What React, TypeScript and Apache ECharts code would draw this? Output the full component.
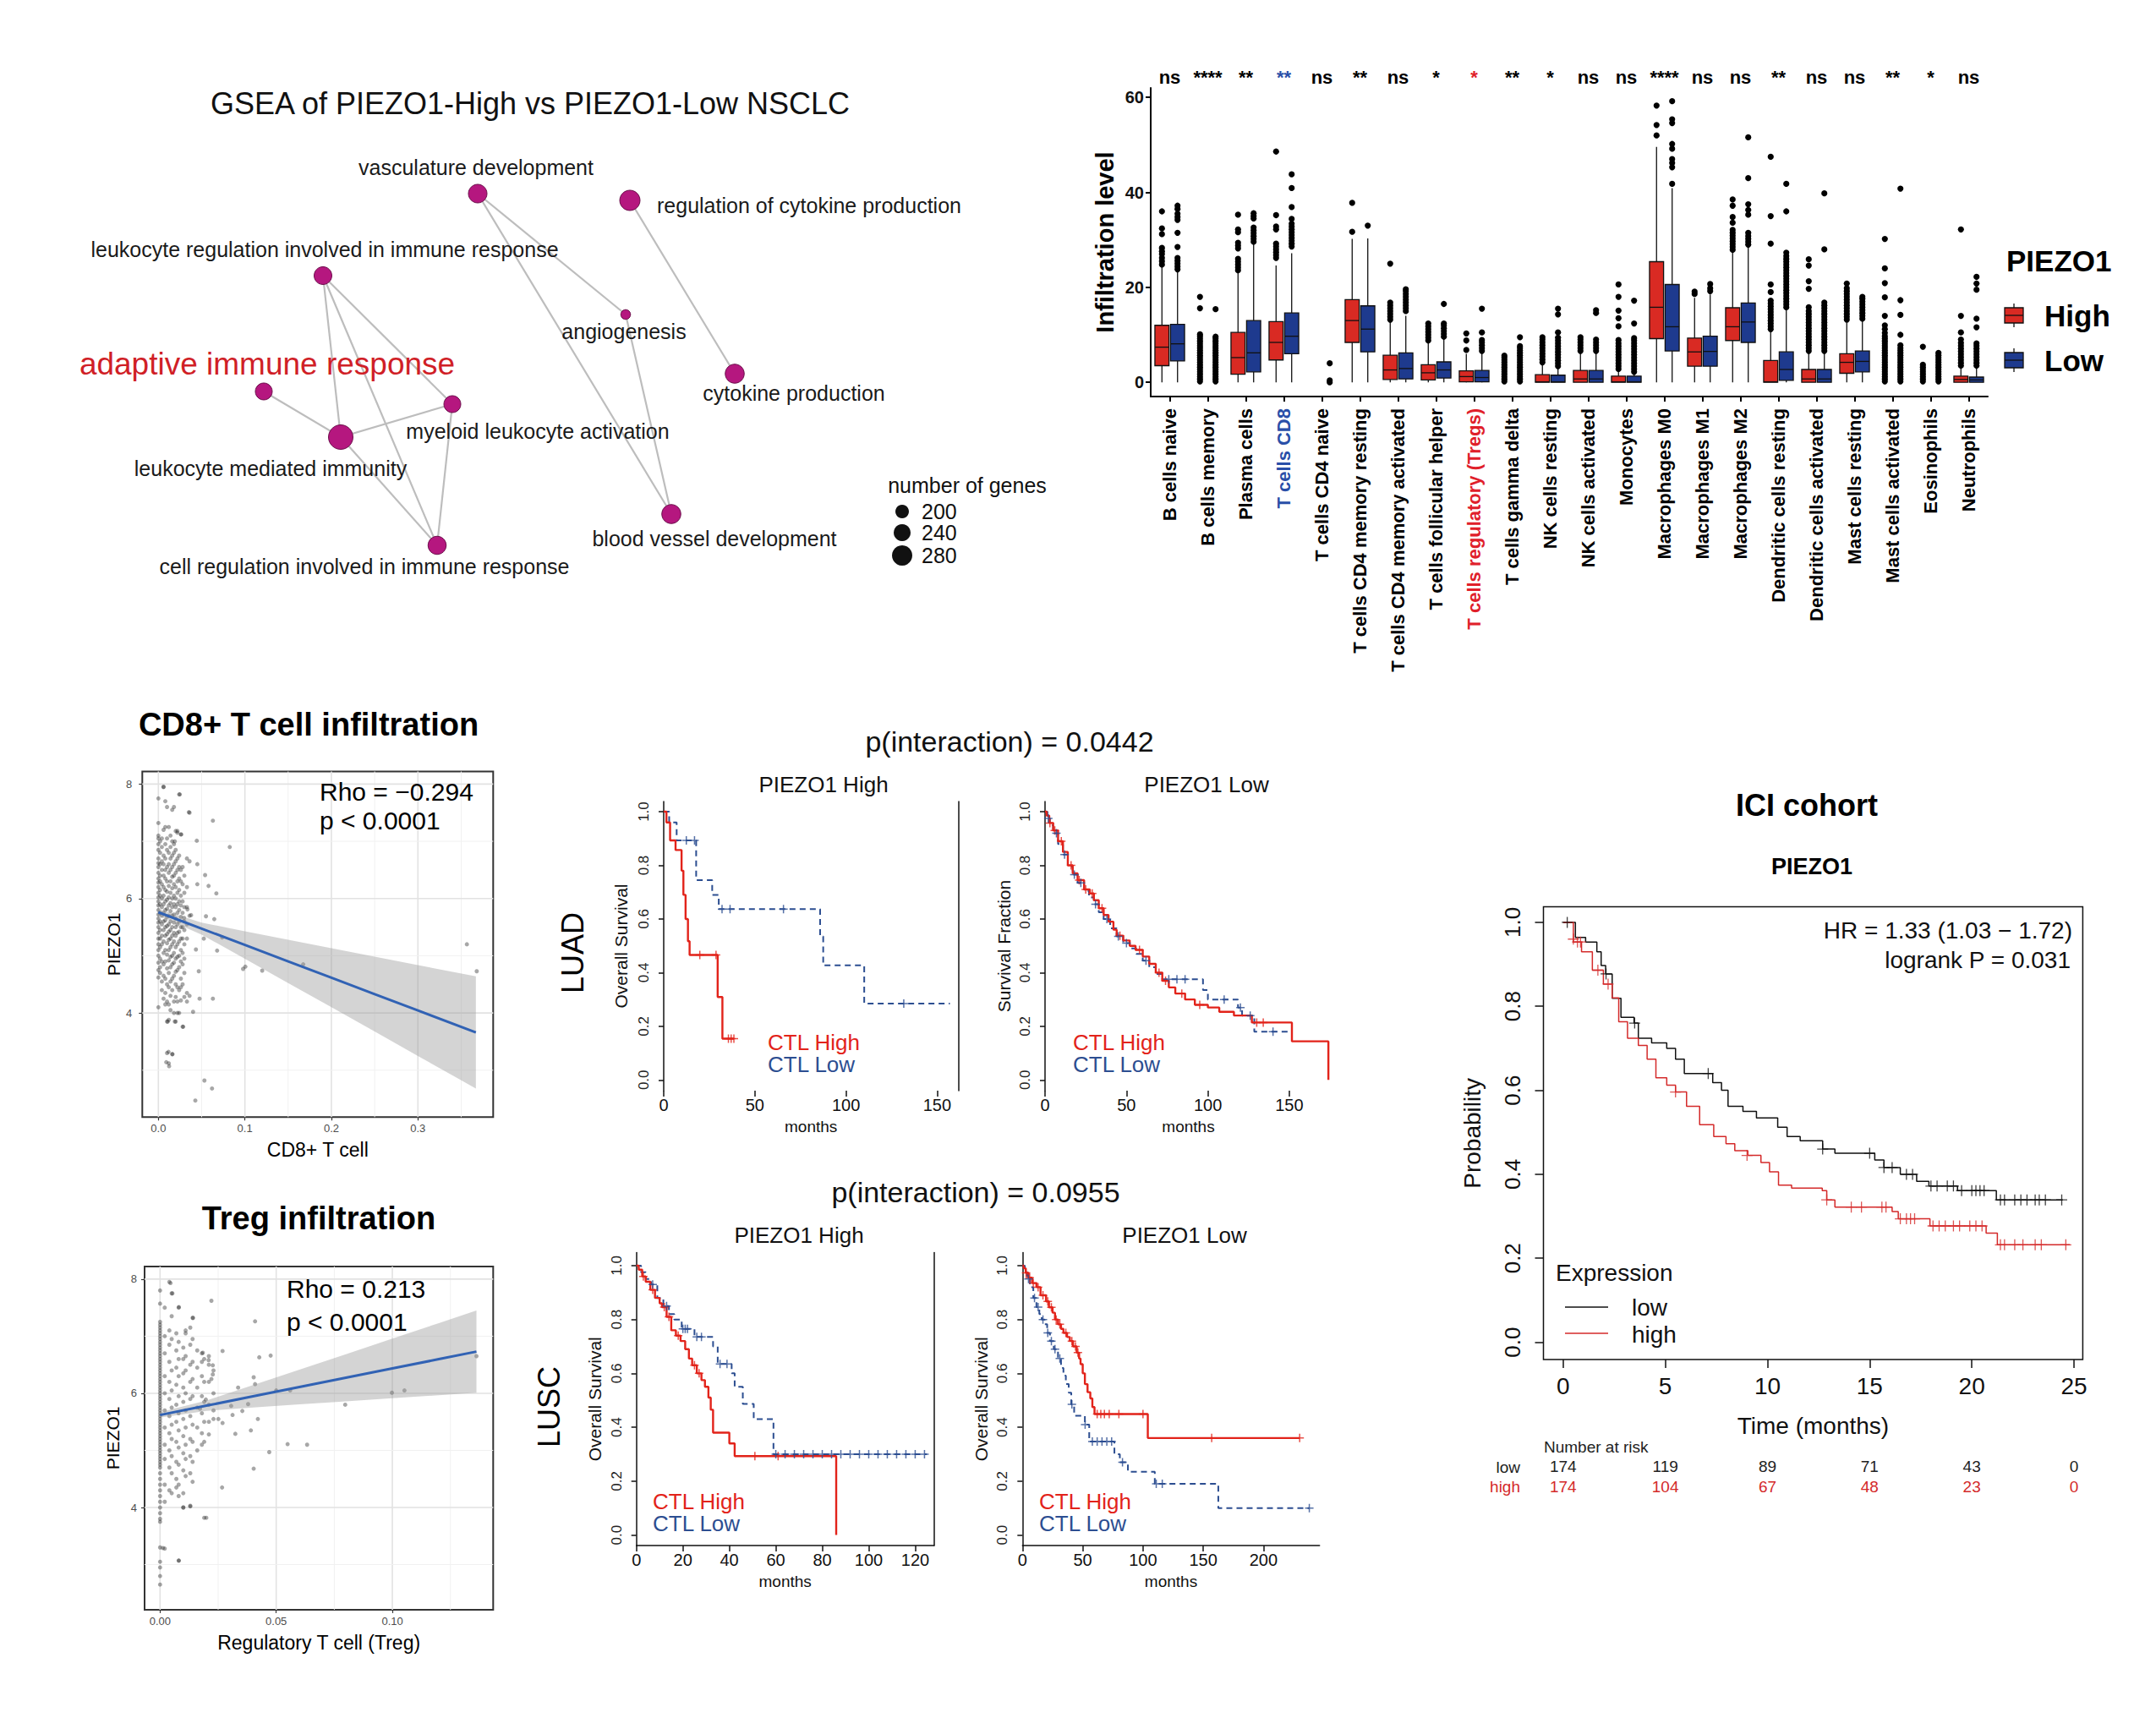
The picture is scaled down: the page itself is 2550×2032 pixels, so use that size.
import React, { useEffect, useRef } from "react";
import * as echarts from "echarts";

const FF = '"Liberation Sans", Arial, Helvetica, sans-serif';

// ===== Panel A: GSEA enrichment network =====
const gseaTerms = [
  "vasculature development",
  "regulation of cytokine production",
  "leukocyte regulation involved in immune response",
  "angiogenesis",
  "adaptive immune response",
  "cytokine production",
  "myeloid leukocyte activation",
  "leukocyte mediated immunity",
  "blood vessel development",
  "cell regulation involved in immune response",
];
const gseaGenes = [260, 280, 250, 155, 240, 265, 240, 330, 265, 255];
const gseaLayoutX = [5.0, 6.8, 3.17, 6.75, 2.47, 8.04, 4.7, 3.38, 7.29, 4.52];
const gseaLayoutY = [4.71, 4.63, 3.74, 3.28, 2.37, 2.58, 2.22, 1.83, 0.92, 0.55];
const gseaEdges = [[0, 3], [0, 8], [3, 8], [1, 5], [2, 7], [2, 6], [2, 9], [4, 7], [7, 6], [7, 9], [6, 9]];
const geneLegend = [200, 240, 280];

// ===== Panel B: CIBERSORT boxplots =====
const cellTypes = [
  "B cells naive", "B cells memory", "Plasma cells", "T cells CD8", "T cells CD4 naive",
  "T cells CD4 memory resting", "T cells CD4 memory activated", "T cells follicular helper",
  "T cells regulatory (Tregs)", "T cells gamma delta", "NK cells resting", "NK cells activated",
  "Monocytes", "Macrophages M0", "Macrophages M1", "Macrophages M2", "Dendritic cells resting",
  "Dendritic cells activated", "Mast cells resting", "Mast cells activated", "Eosinophils", "Neutrophils",
];
const sigLabels = ["ns", "****", "**", "**", "ns", "**", "ns", "*", "*", "**", "*", "ns", "ns", "****", "ns", "ns", "**", "ns", "ns", "**", "*", "ns"];
// [whisker low, Q1, median, Q3, whisker high]
const boxHigh = [
  [0, 3.5, 7.4, 12, 24.6], [0, 0, 0, 0, 0], [0, 1.7, 5.2, 10.5, 23.4], [0, 4.7, 8.4, 12.8, 24.6], [0, 0, 0, 0, 0],
  [0, 8.4, 13, 17.4, 30.2], [0, 0.6, 2.6, 5.7, 12.8], [0, 0.5, 2, 3.7, 8.4], [0, 0.1, 1.2, 2.4, 6], [0, 0, 0, 0, 0],
  [0, 0, 0.1, 1.6, 4], [0, 0, 0.7, 2.5, 6.3], [0, 0, 0.1, 1.3, 2.6], [0, 9.2, 15.8, 25.4, 49.6], [0, 3.4, 6.4, 9.3, 17.8],
  [0, 8.8, 11.7, 15.7, 27.7], [0, 0, 0.1, 4.6, 11], [0, 0, 0.7, 2.7, 6.2], [0, 1.9, 4.2, 6, 12.6], [0, 0, 0, 0, 0],
  [0, 0, 0, 0, 0], [0, 0, 0.6, 1.3, 3],
];
const boxLow = [
  [0, 4.5, 8.1, 12.2, 23.5], [0, 0, 0, 0, 0], [0, 2.2, 6.2, 13, 29.2], [0, 6, 9.7, 14.6, 27.2], [0, 0, 0, 0, 0],
  [0, 6.4, 11.2, 16.1, 30.3], [0, 0.7, 2.9, 6.2, 14], [0, 0.9, 2.6, 4.3, 9.3], [0, 0.1, 1, 2.5, 6.3], [0, 0, 0, 0, 0],
  [0, 0, 0.1, 1.5, 3.2], [0, 0, 0.7, 2.5, 6.2], [0, 0, 0.1, 1.3, 2], [0, 6.6, 11.7, 20.6, 40.9], [0, 3.4, 6.5, 9.7, 18.5],
  [0, 8.4, 12.7, 16.7, 28.5], [0, 0.4, 2.7, 6.4, 15.5], [0, 0, 0.7, 2.7, 6.2], [0, 2.2, 4.4, 6.6, 13], [0, 0, 0, 0, 0],
  [0, 0, 0, 0, 0], [0, 0, 0.5, 1.1, 3],
];
const outliersHigh = [
  [24.8, 25.5, 26.2, 27, 27.6, 28.3, 31.2, 32.4, 36],
  [0.2, 0.7, 1.2, 1.7, 2.2, 2.7, 3.2, 3.7, 4.2, 4.7, 5.2, 5.7, 6.2, 6.7, 7.2, 7.7, 8.2, 8.7, 9.2, 9.7, 10.1, 15.6, 18],
  [23.6, 24.2, 24.8, 25.4, 26, 28.2, 28.8, 29.4, 31.6, 32.2, 35.3],
  [26.2, 26.8, 27.4, 28, 28.6, 29.2, 32.2, 32.8, 35.2, 48.6],
  [],
  [31.7, 37.8],
  [13.2, 13.8, 14.4, 15, 15.6, 16.2, 16.8, 25],
  [8.8, 9.4, 10, 10.6, 11.2, 11.8, 12.4],
  [6.8, 8.8, 10.3],
  [0.2, 0.7, 1.2, 1.7, 2.2, 2.7, 3.2, 3.7, 4.2, 4.7, 5.2, 5.6],
  [4.2, 4.8, 5.4, 6, 6.6, 7.2, 7.8, 8.4, 9, 9.5],
  [6.6, 7.2, 7.8, 8.4, 9, 9.5],
  [2.8, 3.4, 4, 4.6, 5.2, 5.8, 6.4, 7, 7.6, 8.2, 8.9, 11.8, 13.5, 15.1, 18, 20.6],
  [52, 54.2, 58.3],
  [18.6, 19.1],
  [27.9, 28.5, 29.1, 29.7, 30.3, 30.9, 31.5, 32.1, 33.6, 34.8, 37.2, 38.5],
  [11.2, 11.8, 12.4, 13, 13.6, 14.2, 14.8, 15.4, 16, 16.6, 17.2, 19, 20.6, 29.2, 35, 47.5],
  [6.6, 7.2, 7.8, 8.4, 9, 9.6, 10.2, 10.8, 11.4, 12, 12.6, 13.2, 13.8, 14.4, 15, 15.8, 19.7, 21.3, 24.6, 25.9],
  [13.2, 13.8, 14.4, 15, 15.6, 16.2, 16.8, 17.4, 18, 18.6, 19.2, 19.8, 20.8],
  [0.2, 0.7, 1.2, 1.7, 2.2, 2.7, 3.2, 3.7, 4.2, 4.7, 5.2, 5.7, 6.2, 6.7, 7.2, 7.7, 8.2, 8.7, 9.2, 9.7, 10.4, 11.2, 12, 14, 17.9, 20.9, 24, 30.2],
  [0.2, 0.7, 1.2, 1.7, 2.2, 2.7, 3.2, 3.7, 7.5],
  [3.5, 4.1, 4.7, 5.3, 5.9, 6.5, 7.1, 7.7, 8.3, 9, 10.5, 14, 32.2],
];
const outliersLow = [
  [23.8, 24.4, 25, 25.6, 26.2, 28.5, 31.5, 34.2, 34.8, 35.5, 36.5, 37.2],
  [0.2, 0.7, 1.2, 1.7, 2.2, 2.7, 3.2, 3.7, 4.2, 4.7, 5.2, 5.7, 6.2, 6.7, 7.2, 7.7, 8.2, 8.7, 9.2, 9.6, 15.4],
  [29.6, 30.2, 30.8, 31.4, 32, 32.6, 34.5, 35, 35.6],
  [28.6, 29.2, 29.8, 30.4, 31, 31.6, 32.2, 32.8, 33.4, 34.4, 36.9, 40.9, 43.8],
  [0, 0.4, 4],
  [33],
  [15, 15.6, 16.2, 16.8, 17.4, 18, 18.6, 19.2, 19.6],
  [9.6, 10.2, 10.8, 11.4, 12, 12.4, 16.5],
  [6.6, 7.2, 7.8, 8.4, 8.9, 10.5, 15.5],
  [0.2, 0.7, 1.2, 1.7, 2.2, 2.7, 3.2, 3.7, 4.2, 4.7, 5.2, 5.7, 6.2, 6.7, 7.2, 7.6, 9.5],
  [3.4, 4, 4.6, 5.2, 5.8, 6.4, 7, 7.6, 8.2, 8.8, 9.4, 10.5, 14.3, 15.5],
  [6.6, 7.2, 7.8, 8.4, 9, 14.6, 15.2],
  [2.2, 2.8, 3.4, 4, 4.6, 5.2, 5.8, 6.4, 7, 7.6, 8.2, 8.8, 9.3, 12.4, 17.2],
  [41.8, 45.3, 46.2, 47, 49.2, 50.2, 54.6, 55.4, 59.2],
  [19.2, 19.8, 20.7],
  [29, 29.6, 30.2, 30.8, 31.5, 35.3, 36.3, 37.5, 43, 51.6],
  [15.8, 16.4, 17, 17.6, 18.2, 18.8, 19.4, 20, 20.6, 21.2, 21.8, 22.4, 23, 23.6, 24.2, 24.8, 25.4, 26, 26.6, 27.3, 36, 41.8],
  [6.6, 7.2, 7.8, 8.4, 9, 9.6, 10.2, 10.8, 11.4, 12, 12.6, 13.2, 13.8, 14.4, 15, 15.6, 16.2, 16.8, 28, 39.8],
  [13.4, 14, 14.6, 15.2, 15.8, 16.4, 17, 17.6, 18],
  [0.2, 0.7, 1.2, 1.7, 2.2, 2.7, 3.2, 3.7, 4.2, 4.7, 5.2, 5.7, 6.2, 6.7, 7.2, 7.8, 10, 14.2, 17.3, 40.8],
  [0.2, 0.7, 1.2, 1.7, 2.2, 2.7, 3.2, 3.7, 4.2, 4.7, 5.2, 5.7, 6.2],
  [3.5, 4.1, 4.7, 5.3, 5.9, 6.5, 7.1, 7.7, 8.2, 11.6, 13.4, 19.5, 20.8, 22.2],
];
const boxYTicks = [0, 20, 40, 60];

// ===== Panel C: correlation scatter plots =====
const cd8Columns: [number, number[]][] = [
  [0, [7.75, 7.32, 7.1, 7.05, 6.95, 6.85, 6.7, 6.62, 6.55, 6.45, 6.35, 6.28, 6.2, 6.1, 6.02, 5.95, 5.88, 5.8, 5.72, 5.65, 5.58, 5.5, 5.4, 5.3, 5.2, 5.1, 5.0, 4.88, 4.75, 4.62, 4.1]],
  [0.002, [7.0, 6.8, 6.6, 6.4, 6.3, 6.15, 6.05, 5.9, 5.75, 5.6, 5.45, 5.3, 5.15, 4.95, 4.8, 4.7]],
  [0.004, [7.05, 6.9, 6.65, 6.5, 6.25, 6.0, 5.85, 5.7, 5.55, 5.35, 5.2, 4.9, 4.55, 4.4]],
  [0.006, [7.95, 7.2, 6.75, 6.6, 6.4, 6.2, 6.05, 5.9, 5.75, 5.6, 5.45, 5.25, 5.05, 4.85, 4.65, 4.25]],
  [0.008, [7.7, 7.25, 6.95, 6.7, 6.5, 6.35, 6.15, 5.95, 5.8, 5.62, 5.5, 5.35, 5.1, 4.9, 4.6, 4.35, 4.15]],
  [0.01, [7.6, 7.05, 6.85, 6.55, 6.3, 6.12, 5.98, 5.82, 5.68, 5.52, 5.38, 5.22, 5.02, 4.78, 4.5, 4.2, 3.85, 3.3]],
  [0.012, [7.25, 6.8, 6.6, 6.45, 6.22, 6.02, 5.88, 5.7, 5.55, 5.42, 5.28, 5.1, 4.92, 4.7, 4.45, 4.15, 3.88, 3.12]],
  [0.014, [7.1, 6.9, 6.7, 6.5, 6.3, 6.1, 5.92, 5.78, 5.6, 5.45, 5.3, 5.15, 4.98, 4.8, 4.55, 4.3, 4.05]],
  [0.016, [7.55, 7.0, 6.75, 6.55, 6.38, 6.18, 6.0, 5.85, 5.7, 5.5, 5.35, 5.2, 5.0, 4.85, 4.6, 4.4, 3.28]],
  [0.018, [7.6, 6.95, 6.8, 6.6, 6.4, 6.25, 6.05, 5.9, 5.72, 5.58, 5.4, 5.25, 5.05, 4.88, 4.65, 4.2, 4.0]],
  [0.02, [7.18, 6.85, 6.65, 6.45, 6.2, 6.0, 5.85, 5.65, 5.5, 5.35, 5.15, 4.95, 4.72, 4.5, 4.28, 3.85]],
  [0.022, [7.15, 6.7, 6.5, 6.3, 6.1, 5.9, 5.75, 5.55, 5.4, 5.2, 4.98, 4.75, 4.45, 4.2, 4.0]],
  [0.024, [7.82, 6.75, 6.55, 6.35, 6.15, 5.95, 5.8, 5.6, 5.42, 5.25, 5.0, 4.8, 4.4, 4.0]],
  [0.026, [7.12, 6.5, 6.3, 6.05, 5.88, 5.68, 5.5, 5.3, 5.1, 4.9, 4.6, 4.45, 4.22]],
  [0.028, [6.55, 6.25, 5.95, 5.75, 5.5, 5.3, 5.05, 4.85, 4.5, 3.76]],
  [0.03, [6.4, 6.1, 5.85, 5.6, 5.45, 5.2, 4.95, 4.7, 4.28]],
  [0.033, [6.7, 6.2, 5.85, 5.55, 5.3, 4.35, 4.2]],
  [0.036, [7.5, 6.65, 5.7, 4.3]],
];
const cd8Sparse = [
  [0.0248, 7.82], [0.0059, 7.95], [0.0352, 7.51], [0.063, 7.36], [0.0825, 6.9], [0.0444, 7.01], [0.045, 6.6],
  [0.054, 6.41], [0.058, 6.22], [0.067, 6.09], [0.045, 6.25], [0.055, 5.69], [0.0646, 5.64], [0.0737, 5.32],
  [0.0679, 5.09], [0.0525, 5.3], [0.0434, 5.11], [0.0979, 4.77], [0.1005, 4.81], [0.12, 4.74], [0.1674, 4.85],
  [0.3566, 5.2], [0.368, 4.73], [0.0467, 4.73], [0.0476, 4.25], [0.063, 4.25], [0.0401, 4.02], [0.0287, 3.76],
  [0.0532, 2.82], [0.062, 2.68], [0.0427, 2.47], [0.0117, 3.32], [0.0163, 3.28], [0.0091, 3.14], [0.0124, 3.07],
  [0.0108, 3.85], [0.019, 3.85], [0.0297, 5.66], [0.0336, 5.81], [0.0378, 5.71], [0.0264, 7.12], [0.022, 7.18], [0.019, 7.0],
];
const cd8FitX = [0, 0.05, 0.1, 0.15, 0.2, 0.25, 0.3, 0.367];
const cd8Fit = [5.76, 5.474, 5.188, 4.902, 4.616, 4.33, 4.043, 3.66];
const cd8FitHi = [5.818, 5.579, 5.428, 5.28, 5.132, 4.985, 4.837, 4.64];
const cd8FitLo = [5.702, 5.369, 4.948, 4.524, 4.1, 3.675, 3.249, 2.68];

const tregColumns: [number, number[]][] = [
  [0, [7.8, 7.57, 7.25, 7.2, 7.15, 7.1, 7.05, 7.0, 6.95, 6.9, 6.85, 6.8, 6.75, 6.7, 6.65, 6.6, 6.55, 6.5, 6.45, 6.4, 6.35, 6.3, 6.25, 6.2, 6.15, 6.1, 6.05, 6.0, 5.95, 5.9, 5.85, 5.8, 5.75, 5.7, 5.65, 5.6, 5.55, 5.5, 5.45, 5.4, 5.35, 5.3, 5.25, 5.2, 5.15, 5.1, 5.05, 5.0, 4.95, 4.9, 4.85, 4.8, 4.75, 4.7, 4.6, 4.5, 4.4, 4.3, 4.2, 4.1, 4.0, 3.9, 3.8, 3.75, 3.3, 3.05, 2.95, 2.8, 2.65]],
  [0.002, [7.5, 7.0, 6.7, 6.3, 6.0, 5.7, 5.4, 5.1, 4.85, 4.4, 4.1, 3.28]],
  [0.004, [7.95, 7.1, 6.85, 6.55, 6.2, 5.9, 5.6, 5.3, 5.0, 4.7, 4.3]],
  [0.005, [7.75, 7.35, 6.95, 6.4, 6.05, 5.75, 5.45, 5.2, 4.9, 4.6, 4.25]],
  [0.007, [7.05, 6.75, 6.45, 6.15, 5.8, 5.5, 5.15, 4.8, 4.5, 4.35]],
  [0.008, [7.5, 6.9, 6.6, 6.3, 5.95, 5.65, 5.35, 5.05, 4.75, 4.4, 4.2, 3.07]],
  [0.01, [6.8, 6.6, 6.35, 6.1, 5.85, 5.55, 5.25, 4.95, 4.65, 4.25, 4.0]],
  [0.011, [7.1, 7.05, 6.65, 6.4, 6.0, 5.7, 5.4, 5.1, 4.85, 4.55]],
  [0.013, [7.15, 6.85, 6.5, 6.2, 5.9, 5.6, 5.2, 4.9, 4.6, 4.02]],
  [0.014, [7.32, 6.95, 6.55, 6.25, 5.95, 5.45, 5.15, 4.8, 4.45]],
  [0.016, [6.75, 6.45, 6.1, 5.75, 5.4, 5.0]],
  [0.018, [6.7, 6.55, 6.3, 5.95, 5.65, 5.3, 5.1]],
  [0.019, [6.6, 6.2, 5.85, 5.5, 5.15, 3.82]],
  [0.021, [6.65, 6.5, 6.2, 5.8, 5.5, 5.28]],
  [0.023, [6.4, 6.0, 5.7, 5.55]],
];
const tregSparse = [
  [0.0045, 7.93], [0.0053, 7.75], [0.0081, 7.51], [0.0221, 7.62], [0.0142, 7.32], [0.0409, 7.26], [0.0269, 6.74],
  [0.0427, 6.63], [0.0476, 6.66], [0.0403, 6.28], [0.0409, 6.16], [0.0336, 6.1], [0.05, 6.05], [0.056, 6.05],
  [0.0998, 6.01], [0.1052, 6.05], [0.0797, 5.8], [0.1362, 6.65], [0.0379, 5.81], [0.0354, 5.69], [0.0306, 5.78],
  [0.0312, 5.62], [0.0251, 5.55], [0.0269, 5.48], [0.0421, 5.55], [0.0391, 5.35], [0.0324, 5.29], [0.0549, 5.11],
  [0.0633, 5.1], [0.047, 4.97], [0.0403, 4.68], [0.0267, 4.35], [0.0199, 3.82], [0.013, 4.03], [0.01, 4.0],
  [0.0081, 3.07], [0.0012, 3.29], [0.0227, 6.49], [0.0227, 6.33], [0.0221, 6.25], [0.0209, 6.58], [0.0184, 6.71],
  [0.0197, 5.89], [0.0172, 5.73],
];
const tregFitX = [0, 0.02, 0.04, 0.06, 0.08, 0.1, 0.12, 0.1362];
const tregFit = [5.62, 5.783, 5.946, 6.109, 6.272, 6.435, 6.598, 6.73];
const tregFitHi = [5.668, 5.874, 6.142, 6.413, 6.685, 6.957, 7.229, 7.45];
const tregFitLo = [5.572, 5.692, 5.75, 5.805, 5.859, 5.913, 5.967, 6.01];

// ===== Panel D: Kaplan-Meier (TIDE) =====
const survTicks = [0, 0.2, 0.4, 0.6, 0.8, 1.0];
const luadHiRed = [[0, 1], [1.5, 0.96], [3.5, 0.893], [6.5, 0.857], [9.8, 0.78], [10.8, 0.69], [12, 0.6], [13.3, 0.517], [14.2, 0.466], [29.6, 0.309], [32.2, 0.154], [38.5, 0.154]];
const luadHiRedCens = [[19.8, 0.466], [28.7, 0.466], [35.5, 0.154], [37, 0.154], [38.5, 0.154]];
const luadHiBlue = [[0, 1], [3, 0.96], [7.1, 0.893], [17.8, 0.745], [26.6, 0.69], [30.2, 0.637], [85.8, 0.535], [87.5, 0.427], [110, 0.285], [157, 0.285]];
const luadHiBlueCens = [[12.4, 0.893], [16.9, 0.893], [32, 0.637], [36.4, 0.637], [65.7, 0.637], [131.7, 0.285]];
const luadLoRed = [[0, 1], [1, 0.985], [2.6, 0.958], [5, 0.93], [8, 0.89], [11, 0.85], [14, 0.8], [17, 0.77], [20, 0.745], [24, 0.71], [27.5, 0.695], [30, 0.67], [33, 0.64], [36, 0.615], [39, 0.59], [42, 0.56], [44, 0.538], [48, 0.52], [52, 0.5], [55.6, 0.485], [60, 0.46], [64, 0.433], [68, 0.4], [72, 0.37], [76, 0.345], [80, 0.322], [86, 0.3], [92, 0.28], [100, 0.27], [107, 0.254], [116, 0.24], [127, 0.214], [151.6, 0.144], [174, 0]];
const luadLoRedCens = [[3, 0.958], [6, 0.93], [10, 0.89], [16, 0.8], [21, 0.745], [25, 0.71], [29, 0.695], [35, 0.64], [46, 0.538], [58, 0.485], [70, 0.4], [74, 0.37], [84, 0.322], [95, 0.28], [130, 0.214], [134, 0.214]];
const luadLoBlue = [[0, 1], [1.5, 0.975], [3, 0.95], [5, 0.92], [8, 0.88], [11, 0.84], [14, 0.795], [17, 0.765], [20, 0.735], [24, 0.705], [27, 0.68], [30, 0.655], [33, 0.625], [36, 0.6], [40, 0.565], [44, 0.535], [48, 0.51], [52, 0.49], [56, 0.47], [60, 0.445], [64, 0.42], [68, 0.395], [72, 0.375], [97, 0.335], [100, 0.3], [118.5, 0.27], [121, 0.24], [128.5, 0.18], [151.6, 0.18]];
const luadLoBlueCens = [[2, 0.975], [7, 0.92], [12, 0.84], [18, 0.765], [22, 0.735], [31, 0.655], [38, 0.6], [45, 0.535], [50, 0.51], [62, 0.445], [76, 0.375], [81, 0.375], [86, 0.375], [110, 0.3], [120, 0.27], [126, 0.24], [140, 0.18]];

const luscHiRed = [[0, 1], [1, 0.985], [2.5, 0.96], [4, 0.94], [6, 0.91], [8, 0.88], [10, 0.86], [11, 0.846], [13, 0.81], [15, 0.76], [17, 0.74], [19, 0.72], [21, 0.69], [22.6, 0.655], [24, 0.63], [26, 0.6], [28, 0.575], [29.5, 0.55], [31, 0.51], [32, 0.465], [33, 0.38], [40, 0.34], [42.3, 0.293], [86, 0]];
const luscHiRedCens = [[3, 0.96], [7, 0.91], [12, 0.846], [14, 0.81], [18, 0.74], [25, 0.63], [27, 0.6], [51, 0.293], [61, 0.293]];
const luscHiBlue = [[0, 1], [2, 0.975], [4, 0.95], [6.3, 0.93], [9, 0.88], [11.6, 0.85], [14, 0.82], [16.3, 0.8], [19.5, 0.765], [25, 0.735], [33, 0.7], [35, 0.635], [41, 0.6], [42.3, 0.55], [45.8, 0.487], [50.5, 0.43], [59, 0.3], [125, 0.3]];
const luscHiBlueCens = [[7, 0.93], [13, 0.85], [20, 0.765], [21, 0.765], [22, 0.765], [26, 0.735], [28, 0.735], [36, 0.635], [39, 0.635], [60, 0.3], [64, 0.3], [68, 0.3], [72, 0.3], [76, 0.3], [80, 0.3], [84, 0.3], [88, 0.3], [92, 0.3], [96, 0.3], [100, 0.3], [104, 0.3], [108, 0.3], [112, 0.3], [116, 0.3], [120, 0.3], [124, 0.3]];
const luscLoRed = [[0, 1], [1, 0.99], [2.7, 0.973], [5, 0.955], [8, 0.935], [11.6, 0.92], [15, 0.89], [19.6, 0.867], [22, 0.845], [25, 0.825], [27, 0.8], [29.5, 0.782], [32, 0.765], [34, 0.75], [37, 0.735], [39.3, 0.72], [42, 0.7], [45, 0.677], [47, 0.655], [48.2, 0.634], [50, 0.6], [51.8, 0.56], [54, 0.53], [56.3, 0.507], [58, 0.475], [59.8, 0.449], [104, 0.36], [230, 0.36]];
const luscLoRedCens = [[3, 0.973], [6, 0.955], [9, 0.935], [13, 0.92], [17, 0.89], [21, 0.867], [24, 0.845], [28, 0.8], [31, 0.782], [36, 0.75], [41, 0.72], [44, 0.7], [46, 0.677], [62, 0.449], [65, 0.449], [68, 0.449], [72, 0.449], [80, 0.449], [100, 0.449], [157, 0.36], [230, 0.36]];
const luscLoBlue = [[0, 1], [2, 0.975], [4, 0.95], [6.25, 0.92], [9, 0.88], [11.6, 0.846], [14, 0.82], [16, 0.8], [18.3, 0.782], [20.5, 0.75], [22.8, 0.72], [26, 0.69], [29.5, 0.655], [32, 0.62], [34, 0.592], [36, 0.56], [38.4, 0.528], [40.5, 0.485], [42.9, 0.443], [51.8, 0.41], [55.4, 0.347], [76.3, 0.3], [80.8, 0.27], [87.5, 0.235], [109.8, 0.19], [162.5, 0.1], [238, 0.1]];
const luscLoBlueCens = [[5, 0.95], [10, 0.88], [13, 0.846], [17, 0.8], [21, 0.75], [24, 0.72], [27, 0.69], [31, 0.655], [41, 0.485], [52, 0.41], [58, 0.347], [62, 0.347], [66, 0.347], [70, 0.347], [74, 0.347], [83, 0.27], [111, 0.19], [116, 0.19], [238, 0.1]];

// ===== Panel E: ICI cohort =====
const iciTimeTicks = [0, 5, 10, 15, 20, 25];
const iciLow = [[0, 1], [0.6, 0.964], [1.1, 0.953], [1.65, 0.93], [1.86, 0.897], [2.08, 0.877], [2.4, 0.819], [2.83, 0.774], [3.47, 0.76], [3.68, 0.724], [4.33, 0.713], [5.07, 0.7], [5.5, 0.674], [5.93, 0.64], [7.32, 0.618], [7.75, 0.6], [8.07, 0.562], [8.8, 0.55], [9.46, 0.534], [10.5, 0.512], [10.96, 0.49], [11.6, 0.48], [12.7, 0.46], [13.3, 0.45], [15.25, 0.434], [15.7, 0.416], [16.5, 0.4], [17.3, 0.383], [17.9, 0.372], [19.3, 0.361], [21.2, 0.339], [24.45, 0.339]];
const iciHigh = [[0, 1], [0.5, 0.953], [0.9, 0.93], [1.43, 0.886], [1.97, 0.853], [2.4, 0.82], [2.72, 0.763], [3.15, 0.724], [3.68, 0.707], [4.11, 0.674], [4.54, 0.63], [5.07, 0.612], [5.5, 0.596], [6.04, 0.562], [6.68, 0.518], [7.37, 0.49], [7.97, 0.473], [8.4, 0.456], [9.04, 0.445], [9.68, 0.428], [10.1, 0.406], [10.54, 0.374], [11.18, 0.367], [12.68, 0.361], [12.9, 0.339], [13.3, 0.322], [16.1, 0.311], [16.4, 0.294], [17.95, 0.277], [20.7, 0.26], [21.25, 0.232], [24.8, 0.232]];
const iciLowCens = [[0.2, 1], [2.1, 0.877], [3.5, 0.76], [7.1, 0.64], [12.7, 0.46], [15, 0.45], [15.7, 0.416], [16.1, 0.416], [16.8, 0.4], [17.1, 0.4], [18, 0.372], [18.3, 0.372], [18.8, 0.372], [19.1, 0.372], [19.5, 0.361], [20, 0.361], [20.2, 0.361], [20.4, 0.361], [20.6, 0.361], [21.4, 0.339], [21.6, 0.339], [22.1, 0.339], [22.4, 0.339], [22.7, 0.339], [23.1, 0.339], [23.3, 0.339], [23.6, 0.339], [24.4, 0.339]];
const iciHighCens = [[0.5, 0.96], [0.7, 0.953], [0.85, 0.953], [1.7, 0.886], [2.2, 0.853], [5.5, 0.596], [9, 0.445], [12.9, 0.339], [14.1, 0.322], [14.6, 0.322], [15.6, 0.322], [15.8, 0.322], [16.5, 0.294], [16.8, 0.294], [17, 0.294], [17.2, 0.294], [18.1, 0.277], [18.4, 0.277], [18.7, 0.277], [19.1, 0.277], [19.4, 0.277], [19.9, 0.277], [20.2, 0.277], [20.5, 0.277], [21.4, 0.232], [21.6, 0.232], [22.1, 0.232], [22.5, 0.232], [23.1, 0.232], [23.4, 0.232], [24.6, 0.232]];
const riskLow = [174, 119, 89, 71, 43, 0];
const riskHigh = [174, 104, 67, 48, 23, 0];

// ===== styles =====
const BOX_RED = "#D92A23";
const BOX_BLUE = "#1E3A8E";
const KM_RED = "#E2231A";
const KM_BLUE = "#2C4E91";
const ICI_RED = "#D42A2A";
const PLUS = "path://M5,0L5,10M0,5L10,5";
const nodeSize = (n: number) => 16 + (n - 200) * 0.1;
const gseaLabelOffset = [[-2, -31], [32, 6], [2, -31], [-2, 20], [4, -33], [70, 23], [101, 32], [-83, 37], [51, 29], [-86, 25]];

function buildOption() {
  const grid: any[] = [];
  const xAxis: any[] = [];
  const yAxis: any[] = [];
  const series: any[] = [];
  const elements: any[] = [];
  const G = (g: any) => { grid.push({ outerBoundsMode: "none", containLabel: false, ...g }); return grid.length - 1; };
  const fixAxis = (a: any) => ({ ...a, axisLine: { ...(a.axisLine || {}), onZero: false } });
  const X = (a: any) => { xAxis.push(fixAxis(a)); return xAxis.length - 1; };
  const Y = (a: any) => { yAxis.push(fixAxis(a)); return yAxis.length - 1; };
  const T = (text: string, x: number, y: number, o: any = {}) =>
    elements.push({
      type: "text", x, y, rotation: o.rot || 0, silent: true, z: 50,
      style: { text, fill: o.color || "#111", fontSize: o.size || 20, fontFamily: FF, fontWeight: o.weight || "normal", align: o.align || "center", verticalAlign: o.va || "middle" },
    });

  // ---------- A: network ----------
  const ng = G({ left: 65, top: 80, width: 1200, height: 620 });
  const nx = X({ type: "value", gridIndex: ng, min: 0, max: 12, show: false });
  const ny = Y({ type: "value", gridIndex: ng, min: 0, max: 6.2, show: false });
  series.push({
    type: "graph", coordinateSystem: "cartesian2d", xAxisIndex: nx, yAxisIndex: ny, layout: "none", silent: true, z: 2,
    data: gseaTerms.map((name, i) => ({
      name,
      value: [gseaLayoutX[i], gseaLayoutY[i]],
      symbolSize: nodeSize(gseaGenes[i]),
      label: i === 4
        ? { show: true, position: "inside", offset: gseaLabelOffset[i], fontSize: 37, color: "#D01F27", fontFamily: FF }
        : { show: true, position: "inside", offset: gseaLabelOffset[i], align: i === 1 ? "left" : "center", fontSize: 25, color: "#1a1a1a", fontFamily: FF },
    })),
    links: gseaEdges.map(([s, t]) => ({ source: s, target: t })),
    symbol: "circle",
    itemStyle: { color: "#B5177F", borderColor: "#6b0d4a", borderWidth: 1 },
    lineStyle: { color: "#BDBDBD", width: 2.2, opacity: 1, curveness: 0 },
    emphasis: { disabled: true },
  });
  T("GSEA of PIEZO1-High vs PIEZO1-Low NSCLC", 627, 122, { size: 36 });
  T("number of genes", 1144, 574, { size: 25 });
  const legY = [605, 630, 657];
  geneLegend.forEach((n, i) => {
    elements.push({ type: "circle", shape: { cx: 1067, cy: legY[i], r: nodeSize(n) / 2 }, style: { fill: "#111" }, silent: true });
    T(String(n), 1090, legY[i], { size: 25, align: "left" });
  });

  // ---------- B: boxplots ----------
  const bg = G({ left: 1361, top: 104, width: 990, height: 365 });
  const bx = X({
    type: "category", gridIndex: bg, data: cellTypes, boundaryGap: true,
    axisLine: { show: true, lineStyle: { color: "#000", width: 2 } },
    axisTick: { show: true, alignWithLabel: true, length: 6, lineStyle: { color: "#000", width: 2 } },
    axisLabel: {
      interval: 0, rotate: 90, margin: 14, fontFamily: FF, fontSize: 22, fontWeight: "bold", color: "#000",
      formatter: (v: string) => (v === "T cells CD8" ? `{b|${v}}` : v === "T cells regulatory (Tregs)" ? `{r|${v}}` : `{k|${v}}`),
      rich: {
        k: { color: "#000", fontSize: 22, fontWeight: "bold", fontFamily: FF },
        b: { color: "#2A4FA8", fontSize: 22, fontWeight: "bold", fontFamily: FF },
        r: { color: "#E0202A", fontSize: 22, fontWeight: "bold", fontFamily: FF },
      },
    },
    splitLine: { show: false },
  });
  X({
    type: "category", gridIndex: bg, position: "top", data: sigLabels.map((_, i) => String(i)), boundaryGap: true,
    axisLine: { show: false }, axisTick: { show: false }, splitLine: { show: false },
    axisLabel: {
      interval: 0, margin: 2,
      formatter: (_v: string, i: number) => (i === 3 ? `{b|${sigLabels[i]}}` : i === 8 ? `{r|${sigLabels[i]}}` : `{k|${sigLabels[i]}}`),
      rich: {
        k: { color: "#000", fontSize: 22, fontWeight: "bold", fontFamily: FF },
        b: { color: "#2A4FA8", fontSize: 22, fontWeight: "bold", fontFamily: FF },
        r: { color: "#E0202A", fontSize: 22, fontWeight: "bold", fontFamily: FF },
      },
    },
  });
  const by = Y({
    type: "value", gridIndex: bg, min: -3, max: 62,
    axisLine: { show: true, lineStyle: { color: "#000", width: 2 } },
    axisTick: { show: true, length: 6, customValues: boxYTicks, lineStyle: { color: "#000", width: 2 } },
    axisLabel: { customValues: boxYTicks, margin: 8, fontSize: 20, fontWeight: "bold", color: "#111", fontFamily: FF },
    splitLine: { show: false },
    name: "Infiltration level", nameLocation: "middle", nameGap: 40,
    nameTextStyle: { fontSize: 29, fontWeight: "bold", color: "#000", fontFamily: FF },
  });
  const boxSeries = (stats: number[][], g: number, color: string) => ({
    type: "custom", xAxisIndex: bx, yAxisIndex: by, z: 3, silent: true,
    data: stats.map((s, i) => [i, ...s]),
    encode: { x: 0, y: [1, 2, 3, 4, 5] },
    renderItem: (_p: any, api: any) => {
      const i = api.value(0);
      const lo = api.value(1), q1 = api.value(2), md = api.value(3), q3 = api.value(4), hi = api.value(5);
      if (hi <= 0) return null;
      const bw = api.size([1, 0])[0];
      const w = bw * 0.37;
      const cx = api.coord([i, 0])[0] + (g === 0 ? -1 : 1) * bw * 0.205;
      const y = (v: number) => api.coord([i, v])[1];
      const ln = () => ({ stroke: "#111", lineWidth: 1.3 });
      return {
        type: "group",
        children: [
          { type: "line", shape: { x1: cx, y1: y(lo), x2: cx, y2: y(q1) }, style: ln() },
          { type: "line", shape: { x1: cx, y1: y(q3), x2: cx, y2: y(hi) }, style: ln() },
          { type: "rect", shape: { x: cx - w / 2, y: y(q3), width: w, height: Math.max(1, y(q1) - y(q3)) }, style: { fill: color, stroke: "#111", lineWidth: 1.3 } },
          { type: "line", shape: { x1: cx - w / 2, y1: y(md), x2: cx + w / 2, y2: y(md) }, style: ln() },
        ],
      };
    },
  });
  series.push(boxSeries(boxHigh, 0, BOX_RED), boxSeries(boxLow, 1, BOX_BLUE));
  const outlierData: number[][] = [];
  outliersHigh.forEach((vals, i) => vals.forEach((v) => outlierData.push([i, v, 0])));
  outliersLow.forEach((vals, i) => vals.forEach((v) => outlierData.push([i, v, 1])));
  series.push({
    type: "custom", xAxisIndex: bx, yAxisIndex: by, z: 4, silent: true, data: outlierData, encode: { x: 0, y: 1 },
    renderItem: (_p: any, api: any) => {
      const bw = api.size([1, 0])[0];
      const p = api.coord([api.value(0), api.value(1)]);
      const cx = p[0] + (api.value(2) === 0 ? -1 : 1) * bw * 0.205;
      return { type: "circle", shape: { cx, cy: p[1], r: 3.6 }, style: { fill: "#000" } };
    },
  });
  T("PIEZO1", 2373, 308, { size: 35, weight: "bold", align: "left", color: "#000" });
  [["High", BOX_RED, 373], ["Low", BOX_BLUE, 426]].forEach(([lab, col, yy]: any) => {
    elements.push({ type: "line", shape: { x1: 2382, y1: yy - 14, x2: 2382, y2: yy + 14 }, style: { stroke: "#111", lineWidth: 1.3 }, silent: true });
    elements.push({ type: "rect", shape: { x: 2371, y: yy - 9, width: 22, height: 18 }, style: { fill: col, stroke: "#111", lineWidth: 1.3 }, silent: true });
    elements.push({ type: "line", shape: { x1: 2371, y1: yy, x2: 2393, y2: yy }, style: { stroke: "#111", lineWidth: 1.3 }, silent: true });
    T(lab, 2418, yy, { size: 35, weight: "bold", align: "left", color: "#000" });
  });

  // ---------- C: scatter panels ----------
  const scatterPanel = (c: any) => {
    const gi = G({ left: c.left, top: c.top, width: c.width, height: c.height, show: true, borderColor: "#333", borderWidth: 2, backgroundColor: "#fff" });
    const xi = X({
      type: "value", gridIndex: gi, min: c.xMin, max: c.xMax,
      axisLine: { show: false },
      axisTick: { show: true, length: 4, customValues: c.xTicks, lineStyle: { color: "#333", width: 1.2 } },
      axisLabel: { customValues: c.xTicks, margin: 7, fontSize: 13, color: "#4D4D4D", fontFamily: FF, formatter: (v: number) => v.toFixed(c.xDigits) },
      splitLine: { show: false },
      name: c.xName, nameLocation: "middle", nameGap: c.xNameGap, nameTextStyle: { fontSize: 23, color: "#000", fontFamily: FF },
    });
    const yi = Y({
      type: "value", gridIndex: gi, min: c.yMin, max: c.yMax,
      axisLine: { show: false },
      axisTick: { show: true, length: 4, customValues: [4, 6, 8], lineStyle: { color: "#333", width: 1.2 } },
      axisLabel: { customValues: [4, 6, 8], margin: c.yLabelMargin, fontSize: 13, color: "#4D4D4D", fontFamily: FF },
      splitLine: { show: false },
      name: "PIEZO1", nameLocation: "middle", nameGap: c.yNameGap, nameTextStyle: { fontSize: 21, color: "#000", fontFamily: FF },
    });
    const gridData: number[][] = [];
    c.xMajor.forEach((v: number) => gridData.push([0, v, 1]));
    c.xMinor.forEach((v: number) => gridData.push([0, v, 0]));
    [4, 6, 8].forEach((v) => gridData.push([1, v, 1]));
    [3, 5, 7].forEach((v) => gridData.push([1, v, 0]));
    series.push({
      type: "custom", xAxisIndex: xi, yAxisIndex: yi, z: 1, silent: true, data: gridData,
      renderItem: (params: any, api: any) => {
        const cs = params.coordSys;
        const major = api.value(2) === 1;
        const style = { stroke: major ? "#E2E2E2" : "#F1F1F1", lineWidth: major ? 1.6 : 1 };
        if (api.value(0) === 0) {
          const x = api.coord([api.value(1), 5])[0];
          return { type: "line", shape: { x1: x, y1: cs.y, x2: x, y2: cs.y + cs.height }, style };
        }
        const y = api.coord([0, api.value(1)])[1];
        return { type: "line", shape: { x1: cs.x, y1: y, x2: cs.x + cs.width, y2: y }, style };
      },
    });
    const pts: number[][] = [];
    c.columns.forEach(([x, ys]: [number, number[]]) => ys.forEach((y) => pts.push([x, y])));
    c.sparse.forEach((p: number[]) => pts.push(p));
    series.push({ type: "scatter", xAxisIndex: xi, yAxisIndex: yi, data: pts, symbolSize: 5, z: 2, silent: true, itemStyle: { color: "rgba(35,35,35,0.5)" } });
    series.push({
      type: "custom", xAxisIndex: xi, yAxisIndex: yi, z: 3, silent: true, data: [[c.fitX[0], c.fitLo[0]]],
      renderItem: (_p: any, api: any) => ({
        type: "polygon",
        shape: { points: [...c.fitX.map((x: number, i: number) => api.coord([x, c.fitHi[i]])), ...c.fitX.map((x: number, i: number) => api.coord([x, c.fitLo[i]])).reverse()] },
        style: { fill: "rgba(153,153,153,0.42)" },
      }),
    });
    series.push({
      type: "line", xAxisIndex: xi, yAxisIndex: yi, z: 4, silent: true, symbol: "none",
      data: c.fitX.map((x: number, i: number) => [x, c.fit[i]]),
      lineStyle: { color: "#3162B4", width: 3 },
    });
    T(c.title, c.titleX, c.titleY, { size: 38, weight: "bold", color: "#000" });
    T(c.rho, c.textX, c.rhoY, { size: 30, align: "left", color: "#000" });
    T("p < 0.0001", c.textX, c.pY, { size: 30, align: "left", color: "#000" });
  };
  scatterPanel({
    left: 168.3, top: 912.5, width: 415, height: 408.8, xMin: -0.0186, xMax: 0.387, yMin: 2.18, yMax: 8.22,
    xTicks: [0, 0.1, 0.2, 0.3], xDigits: 1, xMajor: [0, 0.1, 0.2, 0.3], xMinor: [0.05, 0.15, 0.25, 0.35],
    xName: "CD8+ T cell", xNameGap: 27, yNameGap: 23, yLabelMargin: 12,
    columns: cd8Columns, sparse: cd8Sparse, fitX: cd8FitX, fit: cd8Fit, fitHi: cd8FitHi, fitLo: cd8FitLo,
    title: "CD8+ T cell infiltration", titleX: 365, titleY: 857, rho: "Rho = \u22120.294", textX: 378, rhoY: 936.5, pY: 970,
  });
  scatterPanel({
    left: 171, top: 1498, width: 412.3, height: 405.9, xMin: -0.00667, xMax: 0.1434, yMin: 2.21, yMax: 8.22,
    xTicks: [0, 0.05, 0.1], xDigits: 2, xMajor: [0, 0.05, 0.1], xMinor: [0.025, 0.075, 0.125],
    xName: "Regulatory T cell (Treg)", xNameGap: 28, yNameGap: 27, yLabelMargin: 9,
    columns: tregColumns, sparse: tregSparse, fitX: tregFitX, fit: tregFit, fitHi: tregFitHi, fitLo: tregFitLo,
    title: "Treg infiltration", titleX: 377, titleY: 1441, rho: "Rho = 0.213", textX: 339, rhoY: 1524, pY: 1563,
  });

  // ---------- D: KM panels ----------
  const km = (c: any) => {
    const gi = G({ left: c.left, top: c.top, width: c.width, height: c.height });
    const axisLs = { color: "#111", width: 1.5 };
    const xi = X({
      type: "value", gridIndex: gi, min: 0, max: c.xMax,
      axisLine: { show: c.xLine, lineStyle: axisLs },
      axisTick: { show: true, length: 7, customValues: c.xTicks, lineStyle: axisLs },
      axisLabel: { customValues: c.xTicks, margin: 7, fontSize: 20, color: "#111", fontFamily: FF },
      splitLine: { show: false },
      name: "months", nameLocation: "middle", nameGap: 33, nameTextStyle: { fontSize: 19, color: "#111", fontFamily: FF },
    });
    const yi = Y({
      type: "value", gridIndex: gi, min: c.yMin, max: c.yMax,
      axisLine: { show: true, lineStyle: axisLs },
      axisTick: { show: true, length: 6, customValues: survTicks, lineStyle: axisLs },
      axisLabel: { customValues: survTicks, rotate: 90, margin: 15, fontSize: 17, color: "#222", fontFamily: FF, formatter: (v: number) => v.toFixed(1) },
      splitLine: { show: false },
      name: c.yName, nameLocation: "middle", nameGap: c.yNameGap, nameTextStyle: { fontSize: 21, color: "#111", fontFamily: FF },
    });
    if (c.rightLine) {
      Y({ type: "value", gridIndex: gi, position: "right", min: c.yMin, max: c.yMax, axisLine: { show: true, lineStyle: axisLs }, axisTick: { show: false }, axisLabel: { show: false }, splitLine: { show: false } });
    }
    series.push({ type: "line", xAxisIndex: xi, yAxisIndex: yi, data: c.red, step: "end", symbol: "none", silent: true, z: 3, lineStyle: { color: KM_RED, width: 2.4 } });
    series.push({ type: "line", xAxisIndex: xi, yAxisIndex: yi, data: c.blue, step: "end", symbol: "none", silent: true, z: 2, lineStyle: { color: KM_BLUE, width: 2, type: [7, 5] } });
    series.push({ type: "scatter", xAxisIndex: xi, yAxisIndex: yi, data: c.redCens, symbol: PLUS, symbolSize: 10, silent: true, z: 4, itemStyle: { color: "transparent", borderColor: KM_RED, borderWidth: 1.5 } });
    series.push({ type: "scatter", xAxisIndex: xi, yAxisIndex: yi, data: c.blueCens, symbol: PLUS, symbolSize: 10, silent: true, z: 4, itemStyle: { color: "transparent", borderColor: KM_BLUE, borderWidth: 1.5 } });
    T(c.title, c.titleX, c.titleY, { size: 26, color: "#111" });
    T("CTL High", c.legX, c.legY, { size: 26, align: "left", color: KM_RED });
    T("CTL Low", c.legX, c.legY + 26, { size: 26, align: "left", color: KM_BLUE });
  };
  T("p(interaction) = 0.0442", 1194, 877, { size: 34, color: "#111" });
  T("LUAD", 677, 1127, { size: 36, color: "#000", rot: Math.PI / 2 });
  km({ left: 785, top: 948, width: 348.4, height: 342, xMax: 161.6, yMin: -0.04, yMax: 1.038, xTicks: [0, 50, 100, 150], xLine: false, rightLine: true, yName: "Overall Survival", yNameGap: 40, red: luadHiRed, blue: luadHiBlue, redCens: luadHiRedCens, blueCens: luadHiBlueCens, title: "PIEZO1 High", titleX: 974, titleY: 928, legX: 908, legY: 1233 });
  km({ left: 1236, top: 948, width: 339, height: 342, xMax: 176, yMin: -0.04, yMax: 1.038, xTicks: [0, 50, 100, 150], xLine: false, rightLine: false, yName: "Survival Fraction", yNameGap: 38, red: luadLoRed, blue: luadLoBlue, redCens: luadLoRedCens, blueCens: luadLoBlueCens, title: "PIEZO1 Low", titleX: 1427, titleY: 928, legX: 1269, legY: 1233 });
  T("p(interaction) = 0.0955", 1154, 1410, { size: 34, color: "#111" });
  T("LUSC", 649, 1664, { size: 36, color: "#000", rot: Math.PI / 2 });
  km({ left: 752.7, top: 1481.6, width: 352, height: 346.4, xMax: 128.1, yMin: -0.039, yMax: 1.048, xTicks: [0, 20, 40, 60, 80, 100, 120], xLine: true, rightLine: true, yName: "Overall Survival", yNameGap: 39, red: luscHiRed, blue: luscHiBlue, redCens: luscHiRedCens, blueCens: luscHiBlueCens, title: "PIEZO1 High", titleX: 945, titleY: 1461, legX: 772, legY: 1776 });
  km({ left: 1209.3, top: 1481.6, width: 351.4, height: 346.4, xMax: 246.5, yMin: -0.039, yMax: 1.048, xTicks: [0, 50, 100, 150, 200], xLine: true, rightLine: false, yName: "Overall Survival", yNameGap: 38, red: luscLoRed, blue: luscLoBlue, redCens: luscLoRedCens, blueCens: luscLoBlueCens, title: "PIEZO1 Low", titleX: 1401, titleY: 1461, legX: 1229, legY: 1776 });

  // ---------- E: ICI cohort ----------
  const ig = G({ left: 1825.5, top: 1072.6, width: 637.9, height: 535.5, show: true, borderColor: "#111", borderWidth: 1.5, backgroundColor: "transparent" });
  const ils = { color: "#111", width: 1.5 };
  const ix = X({
    type: "value", gridIndex: ig, min: -0.964, max: 25.43,
    axisLine: { show: false },
    axisTick: { show: true, length: 10, customValues: iciTimeTicks, lineStyle: ils },
    axisLabel: { customValues: iciTimeTicks, margin: 17, fontSize: 28, color: "#111", fontFamily: FF },
    splitLine: { show: false },
    name: "Time (months)", nameLocation: "middle", nameGap: 64, nameTextStyle: { fontSize: 28, color: "#111", fontFamily: FF },
  });
  const iy = Y({
    type: "value", gridIndex: ig, min: -0.0413, max: 1.0368,
    axisLine: { show: false },
    axisTick: { show: true, length: 10, customValues: survTicks, lineStyle: ils },
    axisLabel: { customValues: survTicks, rotate: 90, margin: 24, fontSize: 26, color: "#111", fontFamily: FF, formatter: (v: number) => v.toFixed(1) },
    splitLine: { show: false },
    name: "Probability", nameLocation: "middle", nameGap: 70, nameTextStyle: { fontSize: 28, color: "#111", fontFamily: FF },
  });
  series.push({ type: "line", xAxisIndex: ix, yAxisIndex: iy, data: iciLow, step: "end", symbol: "none", silent: true, z: 3, lineStyle: { color: "#111", width: 1.5 } });
  series.push({ type: "line", xAxisIndex: ix, yAxisIndex: iy, data: iciHigh, step: "end", symbol: "none", silent: true, z: 3, lineStyle: { color: ICI_RED, width: 1.5 } });
  series.push({ type: "scatter", xAxisIndex: ix, yAxisIndex: iy, data: iciLowCens, symbol: PLUS, symbolSize: 13, silent: true, z: 4, itemStyle: { color: "transparent", borderColor: "#111", borderWidth: 1.3 } });
  series.push({ type: "scatter", xAxisIndex: ix, yAxisIndex: iy, data: iciHighCens, symbol: PLUS, symbolSize: 13, silent: true, z: 4, itemStyle: { color: "transparent", borderColor: ICI_RED, borderWidth: 1.3 } });
  series.push({
    type: "custom", xAxisIndex: ix, yAxisIndex: iy, clip: false, silent: true, z: 5,
    data: iciTimeTicks.map((t, i) => [t, riskLow[i], riskHigh[i]]),
    encode: { x: 0 },
    renderItem: (params: any, api: any) => {
      const cs = params.coordSys;
      const x = api.coord([api.value(0), 0])[0];
      const yb = cs.y + cs.height;
      const st = (text: string, fill: string) => ({ text, fill, fontSize: 19, fontFamily: FF, align: "center", verticalAlign: "middle" });
      return {
        type: "group",
        children: [
          { type: "text", x, y: yb + 126.5, style: st(String(api.value(1)), "#222") },
          { type: "text", x, y: yb + 150, style: st(String(api.value(2)), ICI_RED) },
        ],
      };
    },
  });
  T("ICI cohort", 2137, 952, { size: 36, weight: "bold", color: "#000" });
  T("PIEZO1", 2143, 1025, { size: 27, weight: "bold", color: "#000" });
  T("HR = 1.33 (1.03 \u2212 1.72)", 2451, 1100, { size: 28, align: "right", color: "#111" });
  T("logrank P = 0.031", 2449, 1135, { size: 28, align: "right", color: "#111" });
  T("Expression", 1840, 1505, { size: 28, align: "left", color: "#111" });
  elements.push({ type: "line", shape: { x1: 1851, y1: 1546, x2: 1902, y2: 1546 }, style: { stroke: "#111", lineWidth: 1.5 }, silent: true });
  elements.push({ type: "line", shape: { x1: 1851, y1: 1577, x2: 1902, y2: 1577 }, style: { stroke: ICI_RED, lineWidth: 1.5 }, silent: true });
  T("low", 1930, 1546, { size: 28, align: "left", color: "#111" });
  T("high", 1930, 1578, { size: 28, align: "left", color: "#111" });
  T("Number at risk", 1826, 1711, { size: 19, align: "left", color: "#222" });
  T("low", 1798, 1735, { size: 19, align: "right", color: "#222" });
  T("high", 1798, 1758, { size: 19, align: "right", color: ICI_RED });

  return { animation: false, backgroundColor: "#fff", grid, xAxis, yAxis, series, graphic: { elements } };
}

export default function App() {
  const ref = useRef<HTMLDivElement | null>(null);
  useEffect(() => {
    if (!ref.current) return;
    const chart = echarts.init(ref.current, null, { renderer: "svg" });
    chart.setOption(buildOption() as any);
    return () => chart.dispose();
  }, []);
  return <div ref={ref} style={{ position: "absolute", left: 0, top: 0, width: 2550, height: 2032, background: "#fff" }} />;
}
